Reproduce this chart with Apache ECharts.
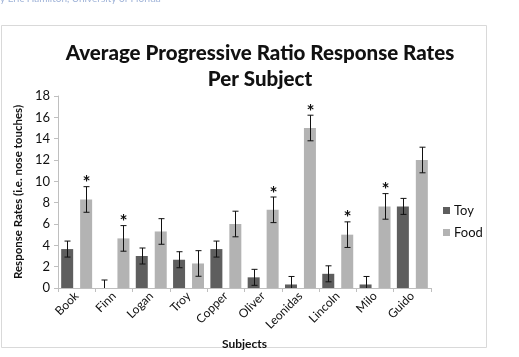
<!DOCTYPE html>
<html><head><meta charset="utf-8">
<script src="https://cdn.jsdelivr.net/npm/echarts@6/dist/echarts.min.js"></script>
<style>html,body{margin:0;padding:0;background:#fff}#c{width:519px;height:357px}</style>
</head><body><div id="c"></div>
<script>
var subjects = ['Book','Finn','Logan','Troy','Copper','Oliver','Leonidas','Lincoln','Milo','Guido'];
var toy = [3.65, 0, 3.0, 2.65, 3.65, 1.0, 0.33, 1.33, 0.33, 7.65];
var toyErr = [0.75, 0.75, 0.75, 0.75, 0.75, 0.75, 0.75, 0.75, 0.75, 0.75];
var food = [8.3, 4.65, 5.3, 2.3, 6.0, 7.33, 15.0, 5.0, 7.65, 12.0];
var foodErr = [1.2, 1.2, 1.2, 1.2, 1.2, 1.2, 1.2, 1.2, 1.2, 1.2];
var significant = [true, true, false, false, false, true, true, true, true, false];
var yTicks = [0, 2, 4, 6, 8, 10, 12, 14, 16, 18];

var FONT = 'Lato, "Open Sans", sans-serif';
var chart = echarts.init(document.getElementById('c'));

function errSeries(name, vals, errs, seriesIndex, stars) {
  return {
    type: 'custom',
    name: name + 'Err',
    z: 10,
    data: vals.map(function (v, i) { return [i, v - errs[i], v + errs[i], stars ? (stars[i] ? 1 : 0) : 0]; }),
    renderItem: function (params, api) {
      var i = api.value(0);
      var lo = api.coord([i, api.value(1)]);
      var hi = api.coord([i, api.value(2)]);
      var base = api.coord([i, 0]);
      var bw = api.size([1, 0])[0];
      var off = (seriesIndex === 0 ? -1 : 1) * bw * 0.255;
      var x = Math.round(lo[0] + off) + 0.5;
      var cap = 3;
      var st = { stroke: '#111', lineWidth: 1 };
      var children = [
        { type: 'line', shape: { x1: x, y1: Math.min(lo[1], base[1]), x2: x, y2: hi[1] }, style: st },
        { type: 'line', shape: { x1: x - cap, y1: hi[1], x2: x + cap, y2: hi[1] }, style: st }
      ];
      if (api.value(1) >= 0) {
        children.push({ type: 'line', shape: { x1: x - cap, y1: lo[1], x2: x + cap, y2: lo[1] }, style: st });
      }
      if (api.value(3) === 1) {
        children.push({ type: 'text', style: { text: '*', x: x, y: hi[1] + 6, textAlign: 'center', textVerticalAlign: 'bottom', font: 'bold 19px ' + FONT, fill: '#111' } });
      }
      return { type: 'group', children: children };
    }
  };
}

chart.setOption({
  animation: false,
  backgroundColor: '#fff',
  graphic: [
    { type: 'rect', shape: { x: 1.5, y: 25.5, width: 485, height: 322 }, style: { fill: 'none', stroke: '#d9d9d9', lineWidth: 1 }, z: -1 },
    { type: 'text', left: 0, top: -6, style: { text: 'y Eric Hamilton, University of Florida', font: '10px ' + FONT, fill: '#9fb3d8' } }
  ],
  title: {
    text: 'Average Progressive Ratio Response Rates\nPer Subject',
    left: 255, top: 36, textAlign: 'center',
    textStyle: { fontFamily: FONT, fontWeight: 900, fontSize: 20.5, lineHeight: 25.5, color: '#111' }
  },
  legend: {
    orient: 'vertical', left: 438, top: 199, itemWidth: 7, itemHeight: 7, itemGap: 9,
    icon: 'rect',
    data: ['Toy', 'Food'],
    textStyle: { fontFamily: FONT, fontSize: 13, color: '#111', padding: [0, 0, 0, -1] }
  },
  grid: { left: 58, right: 88, top: 96, bottom: 69, containLabel: false },
  xAxis: {
    type: 'category', data: subjects,
    name: 'Subjects', nameLocation: 'middle', nameGap: 44,
    nameTextStyle: { fontFamily: FONT, fontWeight: 'bold', fontSize: 12, color: '#111' },
    axisLine: { lineStyle: { color: '#bfbfbf' } },
    axisTick: { show: true, length: 4, lineStyle: { color: '#bfbfbf' } },
    axisLabel: { rotate: 45, fontFamily: FONT, fontSize: 12, color: '#111', margin: 6 }
  },
  yAxis: {
    type: 'value', min: yTicks[0], max: yTicks[yTicks.length - 1], interval: 2,
    name: 'Response Rates (i.e. nose touches)', nameLocation: 'middle', nameGap: 34,
    nameTextStyle: { fontFamily: FONT, fontWeight: 'bold', fontSize: 11.5, color: '#111' },
    axisLine: { show: true, lineStyle: { color: '#bfbfbf' } },
    axisTick: { show: true, length: 4, lineStyle: { color: '#bfbfbf' } },
    splitLine: { show: false },
    axisLabel: { fontFamily: FONT, fontSize: 13, color: '#111', margin: 8 }
  },
  series: [
    { type: 'bar', name: 'Toy', data: toy, itemStyle: { color: '#5e5e5e' }, barWidth: 12, barGap: '58%' },
    { type: 'bar', name: 'Food', data: food, itemStyle: { color: '#b3b3b3' }, barWidth: 12 },
    errSeries('Toy', toy, toyErr, 0, null),
    errSeries('Food', food, foodErr, 1, significant)
  ]
});
</script></body></html>
